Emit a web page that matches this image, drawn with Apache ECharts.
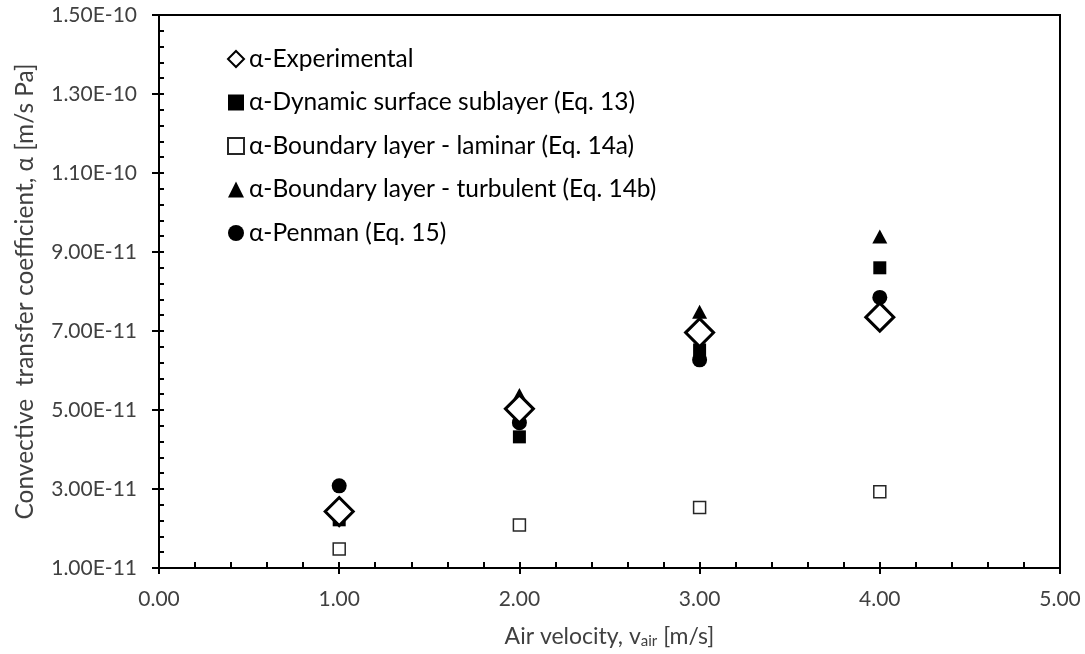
<!DOCTYPE html>
<html>
<head>
<meta charset="utf-8">
<title>Convective transfer coefficient vs air velocity</title>
<script src="https://cdn.jsdelivr.net/npm/echarts@6/dist/echarts.min.js"></script>
<style>
  html, body { margin: 0; padding: 0; background: #fff; }
  #chart { width: 1085px; height: 654px; }
</style>
</head>
<body>
<div id="chart"></div>
<script>
// Air velocity values (m/s) at which each coefficient was evaluated
const velocity = [1, 2, 3, 4];

// Convective transfer coefficient, alpha [m/s Pa]
const alphaExperimental = [2.43e-11, 5.03e-11, 6.96e-11, 7.35e-11];
const alphaDynamicSublayer = [2.22e-11, 4.32e-11, 6.52e-11, 8.60e-11];
const alphaLaminar = [1.48e-11, 2.09e-11, 2.53e-11, 2.93e-11];
const alphaTurbulent = [2.45e-11, 5.38e-11, 7.49e-11, 9.39e-11];
const alphaPenman = [3.08e-11, 4.68e-11, 6.27e-11, 7.85e-11];

const seriesNames = [
  'α-Experimental',
  'α-Dynamic surface sublayer (Eq. 13)',
  'α-Boundary layer - laminar (Eq. 14a)',
  'α-Boundary layer - turbulent (Eq. 14b)',
  'α-Penman (Eq. 15)'
];

// Axis ranges and tick spacing
const xRange = { min: 0, max: 5, interval: 1 };
const yRange = { min: 1e-11, max: 1.5e-10, interval: 2e-11 };

const FONT = 'Lato';
const pairs = (ys) => velocity.map((x, i) => [x, ys[i]]);

const chart = echarts.init(document.getElementById('chart'), null, { renderer: 'canvas' });

// Two overlaid axes per direction: the first draws the line, labels and the
// outward half of the major ticks; the second draws the inward half of the
// major ticks plus the minor ticks.
const xBase = { type: 'value', gridIndex: 0, position: 'bottom', min: xRange.min, max: xRange.max, interval: xRange.interval, splitLine: { show: false } };
const yBase = { type: 'value', gridIndex: 0, position: 'left', min: yRange.min, max: yRange.max, interval: yRange.interval, splitLine: { show: false } };

const option = {
  animation: false,
  backgroundColor: '#ffffff',
  textStyle: { fontFamily: FONT },
  grid: {
    left: 159, right: 25, top: 15, bottom: 86,
    containLabel: false,
    outerBoundsMode: 'none',
    show: true, borderColor: '#000', borderWidth: 2, backgroundColor: 'transparent'
  },
  legend: {
    orient: 'vertical',
    left: 227, top: 46,
    padding: 0,
    itemWidth: 16, itemHeight: 16,
    itemGap: 17.5,
    data: seriesNames,
    selectedMode: false,
    textStyle: { fontFamily: FONT, fontSize: 24.5, color: '#000', lineHeight: 26 }
  },
  xAxis: [
    Object.assign({}, xBase, {
      name: '{t|Air velocity, v}{s|air}{t| [m/s]}',
      nameLocation: 'middle',
      nameGap: 56,
      nameTextStyle: {
        rich: {
          t: { fontFamily: FONT, fontSize: 23, color: '#404040' },
          s: { fontFamily: FONT, fontSize: 15, color: '#404040', verticalAlign: 'bottom', padding: [10, 0, 0, 0] }
        }
      },
      axisLine: { show: true, onZero: false, lineStyle: { color: '#000', width: 2 } },
      axisTick: { show: true, inside: false, length: 6, lineStyle: { color: '#000', width: 2 } },
      minorTick: { show: false },
      axisLabel: {
        margin: 21, fontFamily: FONT, fontSize: 21, color: '#404040',
        formatter: (v) => v.toFixed(2)
      }
    }),
    Object.assign({}, xBase, {
      axisLine: { show: false },
      axisTick: { show: true, inside: true, length: 6, lineStyle: { color: '#000', width: 2 } },
      minorTick: { show: true, splitNumber: 5, length: 6, lineStyle: { color: '#000', width: 2 } },
      axisLabel: { show: false }
    })
  ],
  yAxis: [
    Object.assign({}, yBase, {
      name: 'Convective  transfer coefficient, α [m/s Pa]',
      nameLocation: 'middle',
      nameGap: 121,
      nameRotate: 90,
      nameTextStyle: { fontFamily: FONT, fontSize: 24.5, color: '#404040' },
      axisLine: { show: true, onZero: false, lineStyle: { color: '#000', width: 2 } },
      axisTick: { show: true, inside: false, length: 7, lineStyle: { color: '#000', width: 2 } },
      minorTick: { show: false },
      axisLabel: {
        margin: 22, fontFamily: FONT, fontSize: 21, color: '#404040',
        formatter: (v) => v.toExponential(2).toUpperCase()
      }
    }),
    Object.assign({}, yBase, {
      axisLine: { show: false },
      axisTick: { show: true, inside: true, length: 5, lineStyle: { color: '#000', width: 2 } },
      minorTick: { show: true, splitNumber: 5, length: 5, lineStyle: { color: '#000', width: 2 } },
      axisLabel: { show: false }
    })
  ],
  series: [
    {
      name: seriesNames[0], type: 'scatter', z: 6,
      data: pairs(alphaExperimental),
      symbol: 'diamond', symbolSize: 28,
      itemStyle: { color: '#fff', borderColor: '#000', borderWidth: 3, opacity: 1 }
    },
    {
      name: seriesNames[1], type: 'scatter', z: 2,
      data: pairs(alphaDynamicSublayer),
      symbol: 'rect', symbolSize: 13,
      itemStyle: { color: '#000', opacity: 1 }
    },
    {
      name: seriesNames[2], type: 'scatter', z: 3,
      data: pairs(alphaLaminar),
      symbol: 'rect', symbolSize: 12,
      itemStyle: { color: '#fff', borderColor: '#262626', borderWidth: 1.5, opacity: 1 }
    },
    {
      name: seriesNames[3], type: 'scatter', z: 4,
      data: pairs(alphaTurbulent),
      symbol: 'triangle', symbolSize: [15, 14],
      itemStyle: { color: '#000', opacity: 1 }
    },
    {
      name: seriesNames[4], type: 'scatter', z: 5,
      data: pairs(alphaPenman),
      symbol: 'circle', symbolSize: 15,
      itemStyle: { color: '#000', opacity: 1 }
    }
  ]
};

chart.setOption(option);
</script>
</body>
</html>
